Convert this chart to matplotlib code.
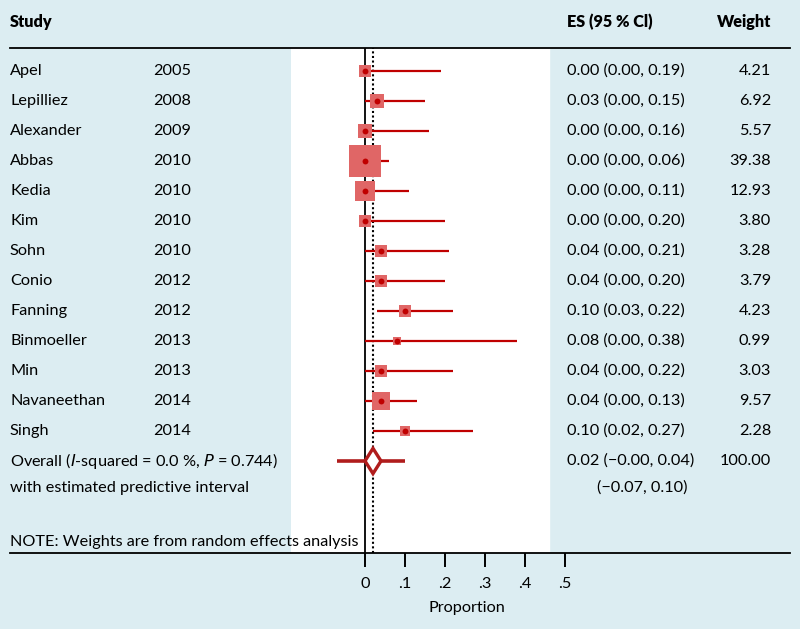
import numpy as np
import matplotlib
matplotlib.use('Agg')
import matplotlib.pyplot as plt
from matplotlib.lines import Line2D
from matplotlib.patches import Polygon
import matplotlib.transforms as mtrans

plt.rcParams['font.family'] = ['Lato', 'DejaVu Sans']

# study rows
studies = ['Apel', 'Lepilliez', 'Alexander', 'Abbas', 'Kedia', 'Kim', 'Sohn',
           'Conio', 'Fanning', 'Binmoeller', 'Min', 'Navaneethan', 'Singh']
years = [2005, 2008, 2009, 2010, 2010, 2010, 2010, 2012, 2012, 2013, 2013, 2014, 2014]
es = [0.00, 0.03, 0.00, 0.00, 0.00, 0.00, 0.04, 0.04, 0.10, 0.08, 0.04, 0.04, 0.10]
lower = [0.00, 0.00, 0.00, 0.00, 0.00, 0.00, 0.00, 0.00, 0.03, 0.00, 0.00, 0.00, 0.02]
upper = [0.19, 0.15, 0.16, 0.06, 0.11, 0.20, 0.21, 0.20, 0.22, 0.38, 0.22, 0.13, 0.27]
weights = [4.21, 6.92, 5.57, 39.38, 12.93, 3.80, 3.28, 3.79, 4.23, 0.99, 3.03, 9.57, 2.28]

# pooled estimate
overall_es = 0.02
overall_ci = (-0.00, 0.04)
overall_weight = 100.00
pred_int = (-0.07, 0.10)
overall_label = 'Overall ($\\it{I}$-squared = 0.0 %, $\\it{P}$ = 0.744)'

xticks = [0, 0.1, 0.2, 0.3, 0.4, 0.5]
xticklabels = ['0', '.1', '.2', '.3', '.4', '.5']

BG = '#dcedf2'
SQ = '#e06666'
RED = '#c00000'
DRED = '#b01c1c'
FS = 11.7

W, H = 800, 629


def fx(px):
    return px / W


def fy(py):
    return 1 - py / H


fig = plt.figure(figsize=(8, 6.29), dpi=100, facecolor=BG)
ax = fig.add_axes([fx(291), fy(553), fx(600) - fx(291), fy(48) - fy(553)])
ax.set_facecolor('none')
ax.set_xlim(-0.185, -0.185 + 309 / 400)
ax.set_ylim(17.0667, 0.2333)
for s in ax.spines.values():
    s.set_visible(False)
ax.set_yticks([])
ax.set_xticks(xticks, xticklabels)
ax.tick_params(axis='x', length=10, width=1.4, pad=7, labelsize=FS)
ax.set_xlabel('Proportion', fontsize=FS)
ax.xaxis.set_label_coords((467 - 291) / 309, -0.095)

# white plotting panel
ax.axvspan(-0.185, 0.46, color='white', zorder=0)

rows = np.arange(1, len(studies) + 1)
ax.axvline(0, color='black', lw=1.3, zorder=1)
ax.axvline(overall_es, color='black', lw=1.5, ls=(0, (1, 1.2)), zorder=1)

ax.hlines(rows, lower, upper, color=RED, lw=1.6, zorder=2)
# box side in px grows with sqrt(weight)
side = (3.4 + 4.4 * np.sqrt(weights)) * 0.72
ax.scatter(es, rows, s=side ** 2, marker='s', color=SQ, linewidths=0, zorder=3)
ax.scatter(es, rows, s=18, color=RED, linewidths=0, zorder=4)

# overall diamond with predictive interval
yo = len(studies) + 1
ax.hlines(yo, pred_int[0], pred_int[1], color=DRED, lw=2.6, zorder=2)
dia = Polygon([(overall_ci[0], yo), (overall_es, yo - 0.42),
               (overall_ci[1], yo), (overall_es, yo + 0.42)],
              closed=True, facecolor='white', edgecolor=DRED, lw=2.4, zorder=3)
ax.add_patch(dia)

# rules
for py in (48, 553):
    fig.add_artist(Line2D([fx(10), fx(790)], [fy(py), fy(py)], color='black', lw=1.3))

tr = mtrans.blended_transform_factory(fig.transFigure, ax.transData)
yh = -0.62
ax.text(fx(10), yh, 'Study', transform=tr, fontsize=FS, fontweight='heavy', va='center')
ax.text(fx(567), yh, 'ES (95 % Cl)', transform=tr, fontsize=FS, fontweight='heavy', va='center')
ax.text(fx(771), yh, 'Weight', transform=tr, fontsize=FS, fontweight='heavy', va='center', ha='right')

for r, name, yr, e, lo, hi, w in zip(rows, studies, years, es, lower, upper, weights):
    ax.text(fx(10), r, name, transform=tr, fontsize=FS, va='center')
    ax.text(fx(153), r, str(yr), transform=tr, fontsize=FS, va='center')
    ax.text(fx(567), r, f'{e:.2f} ({lo:.2f}, {hi:.2f})', transform=tr, fontsize=FS, va='center')
    ax.text(fx(771), r, f'{w:.2f}', transform=tr, fontsize=FS, va='center', ha='right')

ax.text(fx(10), yo, overall_label, transform=tr, fontsize=FS, va='center')
ax.text(fx(567), yo, f'{overall_es:.2f} (\u2212{abs(overall_ci[0]):.2f}, {overall_ci[1]:.2f})',
        transform=tr, fontsize=FS, va='center')
ax.text(fx(771), yo, f'{overall_weight:.2f}', transform=tr, fontsize=FS, va='center', ha='right')
ax.text(fx(10), yo + 0.9, 'with estimated predictive interval', transform=tr, fontsize=FS, va='center')
ax.text(fx(597), yo + 0.9, f'(\u2212{abs(pred_int[0]):.2f}, {pred_int[1]:.2f})',
        transform=tr, fontsize=FS, va='center')
ax.text(fx(10), 16.7, 'NOTE: Weights are from random effects analysis', transform=tr,
        fontsize=FS, va='center')

fig.savefig('out.png', dpi=100, facecolor=BG)
